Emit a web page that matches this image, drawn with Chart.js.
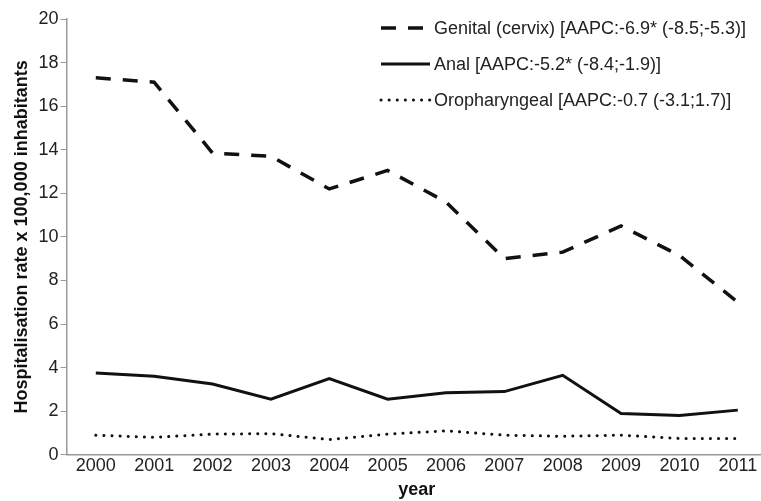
<!DOCTYPE html>
<html>
  <script src="https://cdnjs.cloudflare.com/ajax/libs/Chart.js/4.4.1/chart.umd.min.js"></script>
  <style>
    body { margin: 0; background: #fff; }
    .wrap { width: 761px; height: 501px; }
  </style>
  <body>
    <div class="wrap"><canvas id="myChart"></canvas></div>

    <script>
      const years = ["2000", "2001", "2002", "2003", "2004", "2005", "2006", "2007", "2008", "2009", "2010", "2011"];
      const genital = [17.3, 17.1, 13.85, 13.7, 12.2, 13.05, 11.6, 9.0, 9.3, 10.5, 9.15, 7.0];
      const anal = [3.75, 3.6, 3.25, 2.55, 3.5, 2.55, 2.85, 2.9, 3.65, 1.9, 1.8, 2.05];
      const oro = [0.9, 0.8, 0.95, 0.97, 0.7, 0.95, 1.1, 0.9, 0.85, 0.9, 0.75, 0.75];
      const seriesNames = [
        "Genital (cervix) [AAPC:-6.9* (-8.5;-5.3)]",
        "Anal [AAPC:-5.2* (-8.4;-1.9)]",
        "Oropharyngeal [AAPC:-0.7 (-3.1;1.7)]"
      ];

      const font = "'Liberation Sans', Arial, sans-serif";

      // legend drawn inside the plot, top right
      const innerLegend = {
        id: "innerLegend",
        afterDraw(chart) {
          const ctx = chart.ctx;
          ctx.save();
          chart.data.datasets.forEach(function (ds, i) {
            const y = 28 + i * 36;
            ctx.beginPath();
            ctx.strokeStyle = "#111";
            ctx.lineWidth = ds.borderWidth;
            ctx.lineCap = ds.borderCapStyle || "butt";
            ctx.setLineDash(ds.borderDash || []);
            ctx.moveTo(381, y);
            ctx.lineTo(430, y);
            ctx.stroke();
            ctx.setLineDash([]);
            ctx.fillStyle = "#222";
            ctx.font = "18px " + font;
            ctx.textBaseline = "middle";
            ctx.fillText(ds.label, 434, y + 1);
          });
          ctx.restore();
        }
      };

      // the x axis in the original runs a little past the right edge
      const stretchX = {
        id: "stretchX",
        afterLayout(chart) {
          const s = chart.scales.x;
          s.right += 6;
          s.width += 6;
          s.configure();
        }
      };

      new Chart(document.getElementById("myChart"), {
        type: "line",
        data: {
          labels: years,
          datasets: [
            {
              label: seriesNames[0],
              data: genital,
              borderColor: "#111",
              borderWidth: 3.5,
              borderDash: [15, 12],
              pointRadius: 0,
              tension: 0
            },
            {
              label: seriesNames[1],
              data: anal,
              borderColor: "#111",
              borderWidth: 3,
              pointRadius: 0,
              tension: 0
            },
            {
              label: seriesNames[2],
              data: oro,
              borderColor: "#111",
              borderWidth: 3,
              borderDash: [0.1, 8],
              borderCapStyle: "round",
              pointRadius: 0,
              tension: 0
            }
          ]
        },
        options: {
          responsive: true,
          maintainAspectRatio: false,
          animation: false,
          layout: { padding: { top: 19, right: 0, left: 7, bottom: 0 } },
          plugins: {
            legend: { display: false },
            tooltip: { enabled: false }
          },
          scales: {
            x: {
              offset: true,
              grid: { display: false, drawTicks: false },
              border: { color: "#999", width: 1.5 },
              ticks: { color: "#222", font: { family: font, size: 18 }, padding: 0, maxRotation: 0 },
              title: { display: true, text: "year", color: "#111", font: { family: font, size: 18, weight: "bold" }, padding: { top: 3, bottom: 0 } }
            },
            y: {
              min: 0,
              max: 20,
              ticks: { stepSize: 2, color: "#222", font: { family: font, size: 18 }, padding: 2 },
              grid: { display: true, drawOnChartArea: false, drawTicks: true, tickLength: 6, color: "#999" },
              border: { color: "#999", width: 1.5 },
              title: { display: true, text: "Hospitalisation rate x 100,000 inhabitants", color: "#111", font: { family: font, size: 18, weight: "bold" }, padding: { bottom: 4 } }
            }
          }
        },
        plugins: [innerLegend, stretchX]
      });
    </script>
  </body>
</html>
